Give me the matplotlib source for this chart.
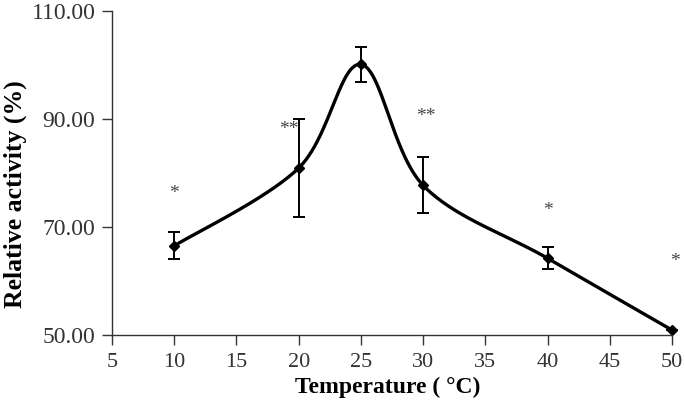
import numpy as np
import matplotlib
matplotlib.use("Agg")
import matplotlib.pyplot as plt

temps = [10, 20, 25, 30, 40, 50]
activity = [66.5, 80.9, 100.1, 77.7, 64.2, 50.9]
err = [2.5, 9.0, 3.3, 5.2, 2.0, 0.0]
stars = ["*", "**", "", "**", "*", "*"]
star_y = [76.2, 88.1, 0, 90.5, 73.0, 63.6]
star_x = [10, 19.2, 25, 30.2, 40, 50.2]

plt.rcParams['font.family'] = ['Liberation Serif', 'DejaVu Serif']

fig = plt.figure(figsize=(6.85, 4.05), dpi=100)
ax = fig.add_axes([0.1635, 0.173, 0.8175, 0.8])
ax.set_xlim(5, 50)
ax.set_ylim(50, 110)

# excel-style smoothed line, done in pixel space
fig.canvas.draw()
pts = ax.transData.transform(np.column_stack([temps, activity]))
curve = []
n = len(pts)
for i in range(n - 1):
    p0 = pts[max(i - 1, 0)]
    p1 = pts[i]
    p2 = pts[i + 1]
    p3 = pts[min(i + 2, n - 1)]
    c1 = p1 + (p2 - p0) / 6
    c2 = p2 - (p3 - p1) / 6
    t = np.linspace(0, 1, 60)[:, None]
    seg = (1 - t) ** 3 * p1 + 3 * (1 - t) ** 2 * t * c1 + 3 * (1 - t) * t ** 2 * c2 + t ** 3 * p2
    curve.append(seg)
curve = ax.transData.inverted().transform(np.vstack(curve))
ax.plot(curve[:, 0], curve[:, 1], color='black', lw=2.4, solid_capstyle='round', clip_on=False)

ax.errorbar(temps, activity, yerr=err, fmt='D', color='black', ms=5.5,
            ecolor='black', elinewidth=1.4, capsize=4.5, capthick=1.4, clip_on=False)

for x, y, s in zip(star_x, star_y, stars):
    if s:
        ax.text(x, y, s, ha='center', va='center', fontsize=14, color='#444444')

ax.spines['top'].set_visible(False)
ax.spines['right'].set_visible(False)
for sp in ['left', 'bottom']:
    ax.spines[sp].set_linewidth(1.0)
    ax.spines[sp].set_color('#333333')
ax.set_xticks(np.arange(5, 51, 5))
ax.set_yticks([50, 70, 90, 110])
ax.set_yticklabels(["%.2f" % v for v in [50, 70, 90, 110]])
ax.tick_params(direction='out', length=7, width=1, color='#333333', labelcolor='#333333')
ax.tick_params(axis='x', labelsize=16, pad=6)
ax.tick_params(axis='y', labelsize=17, pad=5)
ax.set_xlabel("Temperature ( °C)", fontsize=17, fontweight='bold')
ax.set_ylabel("Relative activity (%)", fontsize=18.5, fontweight='bold')
ax.xaxis.set_label_coords(0.492, -0.128)
ax.yaxis.set_label_coords(-0.152, 0.435)

fig.savefig("out.png", dpi=100)
